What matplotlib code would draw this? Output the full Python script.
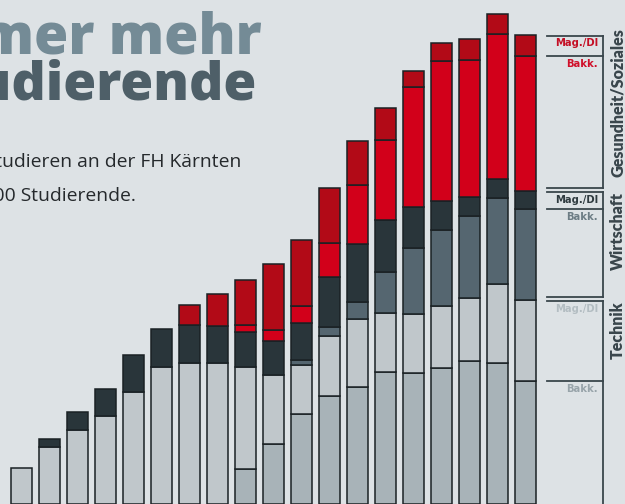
import matplotlib.pyplot as plt

# 19 Studienjahre (Achsenbeschriftung im Ausschnitt nicht sichtbar)
years = list(range(19))
tech_bakk = [0, 0, 0, 0, 0, 0, 0, 0, 34.7, 60.3, 90.2, 108.3, 116.7, 131.7, 130.7, 136, 143.3, 141.3, 122.7]
tech_mag = [36.3, 57, 74, 87.7, 111.7, 137.3, 141.3, 141.3, 102.6, 69, 49.2, 59.4, 68, 59, 59.3, 61.7, 63, 78.4, 81]
wirt_bakk = [0, 0, 0, 0, 0, 0, 0, 0, 0, 0, 4.3, 9.6, 17, 41.6, 66, 76, 81.7, 86.6, 91]
wirt_mag = [0, 8.3, 18.3, 27.6, 37, 38.2, 37.4, 36.4, 34.4, 33.4, 37.8, 49.7, 58, 51.7, 40.7, 29.3, 19, 19, 18.3]
ges_bakk = [0, 0, 0, 0, 0, 0, 0, 0, 7, 11, 16.2, 34.3, 59, 79.8, 120, 139.7, 137, 144.7, 135]
ges_mag = [0, 0, 0, 0, 0, 0, 20, 32.3, 45.3, 66, 66.3, 54.7, 44, 31.9, 16.6, 18, 20.7, 20, 21.3]

series = [tech_bakk, tech_mag, wirt_bakk, wirt_mag, ges_bakk, ges_mag]
colors = ['#a8b3b8', '#c0c7cb', '#556670', '#29353a', '#d2001a', '#b20a17']

W, H = 625, 504
fig = plt.figure(figsize=(W / 100, H / 100), dpi=100)
fig.patch.set_facecolor('#dde2e5')
ax = fig.add_axes([0, 0, 1, 1])
ax.set_facecolor('none')
ax.set_xlim(-21.5 / 28, (W - 21.5) / 28)
ax.set_ylim(0, H)
ax.axis('off')


def px(x):
    return (x - 21.5) / 28


bottom = [0] * len(years)
for vals, col in zip(series, colors):
    for i, v in enumerate(vals):
        if v > 0:
            ax.bar(years[i], v, bottom=bottom[i], width=0.75, color=col,
                   edgecolor='#1a2124', linewidth=1.1)
    bottom = [b + v for b, v in zip(bottom, vals)]

# Legende rechts, an den Segmenten des letzten Balkens ausgerichtet
last = [s[-1] for s in series]
cum = [0]
for v in last:
    cum.append(cum[-1] + v)

blocks = [
    ('Technik', cum[0], cum[1], cum[2], '#b3bdc2', '#98a4aa', -1.5),
    ('Wirtschaft', cum[2], cum[3], cum[4], '#2f3b40', '#6d7d85', -1.5),
    ('Gesundheit/Soziales', cum[4], cum[5], cum[6], '#c40f25', '#d0102a', 6.5),
]
lc = '#3a464c'
for name, lo, mid, hi, c_mag, c_bakk, off in blocks:
    top = hi - 0.8
    bot = lo + 3.3 if lo > 0 else 0
    ax.plot([px(547), px(603)], [top, top], color=lc, lw=1.3)
    ax.plot([px(547), px(603)], [mid, mid], color=lc, lw=1.3)
    if lo > 0:
        ax.plot([px(547), px(603)], [bot, bot], color=lc, lw=1.3)
    ax.plot([px(603), px(603)], [bot, top], color=lc, lw=1.3)
    ax.text(px(598), top - 3, 'Mag./DI', ha='right', va='top', color=c_mag,
            fontsize=7.2, fontweight='bold', family='DejaVu Sans')
    ax.text(px(598), mid - 3, 'Bakk.', ha='right', va='top', color=c_bakk,
            fontsize=7.2, fontweight='bold', family='DejaVu Sans')
    ax.text(px(617.5), hi + off, name, rotation=90, ha='center', va='top',
            color='#3a464c', fontsize=11.5, fontweight='heavy', family='Lato')

# Titel und Text (links angeschnitten)
fig.text(262 / W, 1 - 54 / H, 'Immer mehr', ha='right', va='baseline',
         color='#748b96', fontsize=40, fontweight='extra bold', family='Open Sans')
fig.text(257 / W, 1 - 100 / H, 'Studierende', ha='right', va='baseline',
         color='#4e5f68', fontsize=38.5, fontweight='extra bold', family='Open Sans')
fig.text(241 / W, 1 - 167 / H, 'studieren an der FH Kärnten', ha='right',
         va='baseline', color='#25292c', fontsize=13.9, family='Open Sans')
fig.text(136 / W, 1 - 201 / H, 'über 2.000 Studierende.', ha='right',
         va='baseline', color='#25292c', fontsize=13.9, family='Open Sans')

fig.savefig('out.png', dpi=100, facecolor=fig.get_facecolor())
